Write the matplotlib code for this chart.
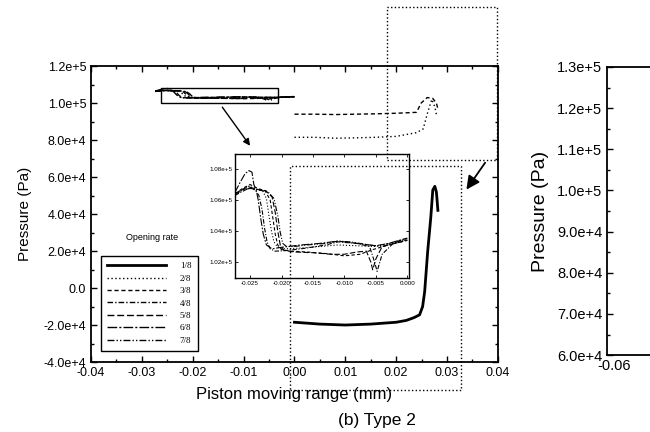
import matplotlib.pyplot as plt
from matplotlib.patches import Rectangle

plt.rcParams['font.family'] = ['Liberation Sans', 'DejaVu Sans']

# tick values / labels
x_ticks = [-0.04, -0.03, -0.02, -0.01, 0.00, 0.01, 0.02, 0.03, 0.04]
x_labels = ['-0.04', '-0.03', '-0.02', '-0.01', '0.00', '0.01', '0.02', '0.03', '0.04']
y_ticks = [-4e4, -2e4, 0, 2e4, 4e4, 6e4, 8e4, 1.0e5, 1.2e5]
y_labels = ['-4.0e+4', '-2.0e+4', '0.0', '2.0e+4', '4.0e+4', '6.0e+4', '8.0e+4', '1.0e+5', '1.2e+5']

ins_x_ticks = [-0.025, -0.020, -0.015, -0.010, -0.005, 0.000]
ins_x_labels = ['-0.025', '-0.020', '-0.015', '-0.010', '-0.005', '0.000']
ins_y_ticks = [1.02e5, 1.04e5, 1.06e5, 1.08e5]
ins_y_labels = ['1.02e+5', '1.04e+5', '1.06e+5', '1.08e+5']

r_y_ticks = [6e4, 7e4, 8e4, 9e4, 1.0e5, 1.1e5, 1.2e5, 1.3e5]
r_y_labels = ['6.0e+4', '7.0e+4', '8.0e+4', '9.0e+4', '1.0e+5', '1.1e+5', '1.2e+5', '1.3e+5']

rates = ['1/8', '2/8', '3/8', '4/8', '5/8', '6/8', '7/8']

# 1/8 : solid curve in main plot
x1 = [0.0, 0.005, 0.010, 0.015, 0.020, 0.022, 0.0235, 0.0246, 0.0252, 0.0256,
      0.0262, 0.0268, 0.0272, 0.0276, 0.0279, 0.0280, 0.0282]
p1 = [-1.85e4, -1.95e4, -2.0e4, -1.95e4, -1.85e4, -1.75e4, -1.6e4, -1.45e4, -1.0e4, -2e3,
      2.0e4, 3.8e4, 5.3e4, 5.5e4, 5.2e4, 4.9e4, 4.2e4]

# upper right curves (main plot)
xa = [0.0, 0.004, 0.008, 0.012, 0.016, 0.020, 0.024, 0.0249, 0.0261, 0.0272, 0.0279, 0.0282]
pa = [9.4e4, 9.4e4, 9.38e4, 9.4e4, 9.42e4, 9.45e4, 9.5e4, 1.0e5, 1.03e5, 1.025e5, 1.0e5, 9.7e4]
xb = [0.0, 0.004, 0.008, 0.012, 0.016, 0.020, 0.024, 0.0253, 0.0262, 0.0270, 0.0276, 0.0279]
pb = [8.15e4, 8.15e4, 8.1e4, 8.12e4, 8.15e4, 8.2e4, 8.4e4, 8.6e4, 9.5e4, 1.02e5, 9.8e4, 9.4e4]

# 2/8 .. 7/8 : curves shown in the inset
x2 = [-0.0274, -0.0262, -0.0252, -0.0240, -0.0230, -0.0224, -0.0220, -0.0216, -0.0212, -0.0206,
      -0.0195, -0.0170, -0.0140, -0.0110, -0.0080, -0.0050, -0.0030, -0.0010, 0.0000]
p2 = [1.0635e5, 1.0665e5, 1.0690e5, 1.0670e5, 1.0660e5, 1.0610e5, 1.0500e5, 1.0400e5, 1.0330e5, 1.0295e5,
      1.0285e5, 1.0290e5, 1.0300e5, 1.0310e5, 1.0305e5, 1.0300e5, 1.0320e5, 1.0330e5, 1.0345e5]
x3 = [-0.0274, -0.0262, -0.0250, -0.0238, -0.0226, -0.0218, -0.0214, -0.0210, -0.0206, -0.0200,
      -0.0185, -0.0160, -0.0130, -0.0100, -0.0075, -0.0055, -0.0030, 0.0000]
p3 = [1.0640e5, 1.0675e5, 1.0700e5, 1.0675e5, 1.0660e5, 1.0600e5, 1.0490e5, 1.0380e5, 1.0310e5, 1.0280e5,
      1.0270e5, 1.0265e5, 1.0255e5, 1.0240e5, 1.0250e5, 1.0280e5, 1.0310e5, 1.0340e5]
x4 = [-0.0274, -0.0260, -0.0250, -0.0242, -0.0236, -0.0231, -0.0227, -0.0223, -0.0218, -0.0210,
      -0.0190, -0.0160, -0.0130, -0.0110, -0.0080, -0.0060, -0.0052, -0.0048, -0.0040, -0.0020, 0.0000]
p4 = [1.0630e5, 1.0660e5, 1.0680e5, 1.0665e5, 1.0630e5, 1.0540e5, 1.0420e5, 1.0330e5, 1.0285e5, 1.0270e5,
      1.0275e5, 1.0290e5, 1.0310e5, 1.0330e5, 1.0320e5, 1.0300e5, 1.0200e5, 1.0140e5, 1.0250e5, 1.0330e5, 1.0350e5]
x5 = [-0.0274, -0.0262, -0.0252, -0.0240, -0.0225, -0.0215, -0.0210, -0.0206, -0.0202, -0.0196,
      -0.0180, -0.0150, -0.0120, -0.0100, -0.0080, -0.0065, -0.0058, -0.0055, -0.0050, -0.0040, -0.0020, 0.0000]
p5 = [1.0640e5, 1.0670e5, 1.0685e5, 1.0670e5, 1.0660e5, 1.0620e5, 1.0520e5, 1.0400e5, 1.0310e5, 1.0275e5,
      1.0265e5, 1.0260e5, 1.0250e5, 1.0250e5, 1.0265e5, 1.0270e5, 1.0200e5, 1.0150e5, 1.0220e5, 1.0300e5, 1.0320e5, 1.0340e5]
x6 = [-0.0274, -0.0265, -0.0258, -0.0252, -0.0247, -0.0244, -0.0240, -0.0237, -0.0233, -0.0229,
      -0.0224, -0.0215, -0.0200, -0.0170, -0.0140, -0.0110, -0.0080, -0.0050, -0.0030, 0.0000]
p6 = [1.0650e5, 1.0720e5, 1.0770e5, 1.0790e5, 1.0780e5, 1.0700e5, 1.0660e5, 1.0600e5, 1.0480e5, 1.0380e5,
      1.0310e5, 1.0285e5, 1.0295e5, 1.0310e5, 1.0320e5, 1.0335e5, 1.0320e5, 1.0305e5, 1.0320e5, 1.0355e5]
x7 = [-0.0274, -0.0262, -0.0250, -0.0238, -0.0222, -0.0212, -0.0206, -0.0202, -0.0198, -0.0192,
      -0.0180, -0.0160, -0.0130, -0.0110, -0.0090, -0.0060, -0.0040, -0.0020, 0.0000]
p7 = [1.0635e5, 1.0665e5, 1.0675e5, 1.0665e5, 1.0655e5, 1.0610e5, 1.0500e5, 1.0390e5, 1.0320e5, 1.0300e5,
      1.0300e5, 1.0310e5, 1.0320e5, 1.0335e5, 1.0330e5, 1.0310e5, 1.0300e5, 1.0325e5, 1.0350e5]

inset_series = [(x2, p2), (x3, p3), (x4, p4), (x5, p5), (x6, p6), (x7, p7)]
styles = [(0, (1, 1.8)), (0, (3, 2)), (0, (4, 1.5, 1, 1.5)), (0, (5, 2)),
          (0, (7, 1.5, 1.5, 1.5)), (0, (5, 1.5, 1, 1.5, 1, 1.5))]

fig = plt.figure(figsize=(6.5, 4.32), dpi=100)

# ---- main axes
ax = fig.add_axes([0.14, 0.162, 0.626, 0.685])
h1, = ax.plot(x1, p1, color='black', lw=2.0, label=rates[0])
ax.plot(xa, pa, color='black', lw=1.0, ls=(0, (3, 2)))
ax.plot(xb, pb, color='black', lw=1.0, ls=(0, (1, 2)))
handles = [h1]
for (xs, ps), st, lab in zip(inset_series, styles, rates[1:]):
    h, = ax.plot(xs, ps, color='black', lw=1.0, ls=st, label=lab)
    handles.append(h)

ax.set_xlim(-0.04, 0.04)
ax.set_ylim(-4e4, 1.2e5)
ax.set_xticks(x_ticks)
ax.set_xticklabels(x_labels)
ax.set_yticks(y_ticks)
ax.set_yticklabels(y_labels)
ax.set_xticks([t + 0.005 for t in x_ticks[:-1]], minor=True)
ax.set_yticks([t + 1e4 for t in y_ticks[:-1]], minor=True)
ax.tick_params(which='both', direction='in', top=True, right=True, labelsize=9, width=1)
ax.tick_params(which='major', length=4)
ax.tick_params(which='minor', length=2)
for s in ax.spines.values():
    s.set_linewidth(1.3)
ax.set_xlabel('Piston moving range (mm)', fontsize=12, labelpad=6)
ax.set_ylabel('Pressure (Pa)', fontsize=11, labelpad=8)

leg = ax.legend(handles=handles, loc='lower left', bbox_to_anchor=(0.025, 0.037),
                borderaxespad=0, fancybox=False, framealpha=1, edgecolor='black',
                prop={'family': 'Liberation Serif', 'size': 6.5}, handlelength=6.5,
                handletextpad=1.5, labelspacing=0.45, borderpad=0.7)
leg.get_frame().set_linewidth(1.0)
ax.text(0.15, 0.422, 'Opening rate', transform=ax.transAxes, ha='center', va='center', fontsize=6.5)

# zoom boxes and arrows
ax.add_patch(Rectangle((-0.0263, 1.0e5), 0.0231, 0.081e5, fill=False, lw=1.0, ec='black', zorder=5))
ax.add_patch(Rectangle((-0.0009, -5.5e4), 0.0336, 12.1e4, fill=False, lw=1.0, ls=':', ec='black',
                       clip_on=False, zorder=5))
ax.add_patch(Rectangle((0.0182, 6.92e4), 0.0216, 8.3e4, fill=False, lw=1.0, ls=':', ec='black',
                       clip_on=False, zorder=5))
ax.annotate('', xy=(-0.0084, 7.57e4), xytext=(-0.0145, 9.9e4),
            arrowprops=dict(arrowstyle='-|>', color='black', lw=1.0, mutation_scale=10))
ax.annotate('', xy=(0.0335, 5.2e4), xytext=(0.0378, 6.9e4),
            arrowprops=dict(arrowstyle='-|>', color='black', lw=1.3, mutation_scale=20))

# ---- inset
ins = fig.add_axes([0.3615, 0.3565, 0.268, 0.287])
ins.patch.set_alpha(0)
for (xs, ps), st in zip(inset_series, styles):
    ins.plot(xs, ps, color='black', lw=0.8, ls=st)
ins.set_xlim(-0.0274, 0.0003)
ins.set_ylim(1.0097e5, 1.0897e5)
ins.set_xticks(ins_x_ticks)
ins.set_xticklabels(ins_x_labels)
ins.set_yticks(ins_y_ticks)
ins.set_yticklabels(ins_y_labels)
ins.tick_params(which='both', direction='in', top=True, right=True, labelsize=4.5, length=2, width=0.6, pad=2)
for s in ins.spines.values():
    s.set_linewidth(1.0)

# ---- right panel (cut off)
axr = fig.add_axes([0.934, 0.178, 0.3, 0.667])
axr.set_ylim(6e4, 1.3e5)
axr.set_xlim(-0.064, 0.05)
axr.set_yticks(r_y_ticks)
axr.set_yticklabels(r_y_labels)
axr.set_yticks([t + 5e3 for t in r_y_ticks[:-1]], minor=True)
axr.set_xticks([-0.06])
axr.set_xticklabels(['-0.06'])
axr.tick_params(axis='y', which='both', direction='in', labelsize=10.5, width=1)
axr.tick_params(axis='y', which='major', length=4)
axr.tick_params(axis='y', which='minor', length=2)
axr.tick_params(axis='x', length=0, labelsize=10.5, pad=3)
for s in axr.spines.values():
    s.set_linewidth(1.3)
axr.set_ylabel('Pressure (Pa)', fontsize=14, labelpad=6)

fig.text(377 / 650, 1 - 421 / 432, '(b) Type 2', ha='center', va='center', fontsize=12.5)

fig.savefig('out.png', dpi=100)
